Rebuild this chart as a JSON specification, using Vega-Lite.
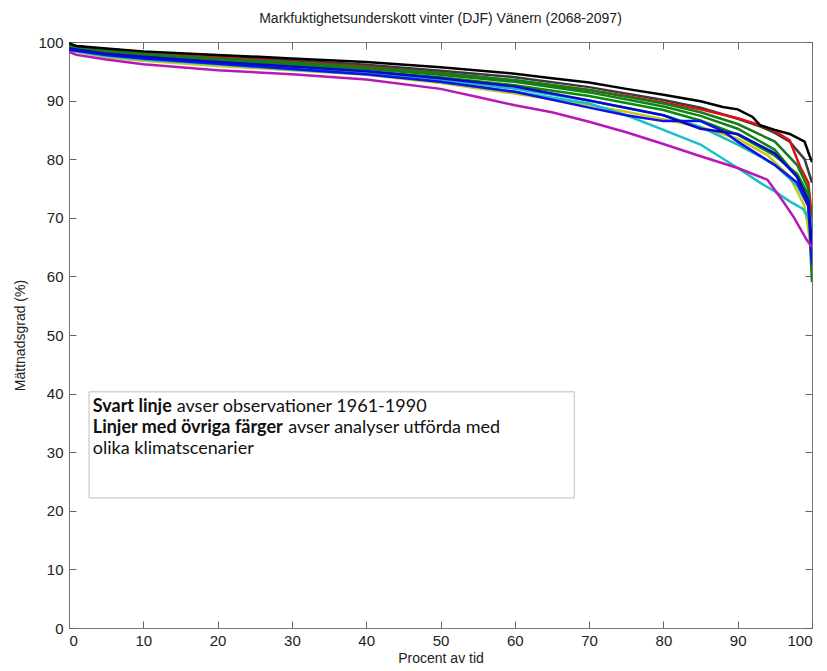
{
  "$schema": "https://vega.github.io/schema/vega-lite/v6.json",
  "width": 743,
  "height": 586,
  "autosize": {"type": "none"},
  "padding": {"left": 69, "top": 42, "right": 15, "bottom": 43},
  "background": "white",
  "title": {"text": "Markfuktighetsunderskott vinter (DJF) Vänern (2068-2097)", "font": "Liberation Sans", "fontSize": 14, "fontWeight": "normal", "color": "#222", "offset": 9, "anchor": "middle"},
  "config": {
    "view": {"stroke": "#777", "strokeWidth": 1},
    "axis": {"grid": false, "domain": false, "tickColor": "#666", "tickWidth": 1, "tickSize": 7, "offset": -7, "labelFont": "Liberation Sans", "labelFontSize": 15, "labelColor": "#222", "titleFont": "Liberation Sans", "titleFontSize": 14, "titleFontWeight": "normal", "titleColor": "#222"}
  },
  "datasets": {
    "lines": [
      {"s":"gray","x":0,"y":99.4},{"s":"gray","x":5,"y":98.8},{"s":"gray","x":10,"y":98.3},{"s":"gray","x":20,"y":97.6},{"s":"gray","x":30,"y":96.9},{"s":"gray","x":40,"y":96.1},{"s":"gray","x":50,"y":95.1},{"s":"gray","x":60,"y":94.0},{"s":"gray","x":70,"y":92.3},{"s":"gray","x":80,"y":90.1},{"s":"gray","x":85,"y":88.8},{"s":"gray","x":90,"y":86.9},{"s":"gray","x":93,"y":85.6},{"s":"gray","x":95,"y":84.5},{"s":"gray","x":97,"y":83.0},{"s":"gray","x":99,"y":80.0},{"s":"gray","x":100,"y":76.0},
      {"s":"red","x":0,"y":99.4},{"s":"red","x":5,"y":98.7},{"s":"red","x":10,"y":98.2},{"s":"red","x":20,"y":97.4},{"s":"red","x":30,"y":96.6},{"s":"red","x":40,"y":95.8},{"s":"red","x":50,"y":94.7},{"s":"red","x":60,"y":93.4},{"s":"red","x":70,"y":91.8},{"s":"red","x":75,"y":90.8},{"s":"red","x":80,"y":89.7},{"s":"red","x":85,"y":88.5},{"s":"red","x":90,"y":87.0},{"s":"red","x":93,"y":85.8},{"s":"red","x":95,"y":84.8},{"s":"red","x":97,"y":83.2},{"s":"red","x":98.4,"y":78.7},{"s":"red","x":99.5,"y":76.0},{"s":"red","x":100,"y":70.0},
      {"s":"green1","x":0,"y":99.2},{"s":"green1","x":5,"y":98.3},{"s":"green1","x":10,"y":97.8},{"s":"green1","x":20,"y":97.0},{"s":"green1","x":30,"y":96.2},{"s":"green1","x":40,"y":95.4},{"s":"green1","x":50,"y":94.4},{"s":"green1","x":60,"y":93.2},{"s":"green1","x":70,"y":91.4},{"s":"green1","x":80,"y":89.0},{"s":"green1","x":85,"y":87.4},{"s":"green1","x":90,"y":85.2},{"s":"green1","x":95,"y":81.6},{"s":"green1","x":98,"y":77.0},{"s":"green1","x":99.5,"y":72.0},{"s":"green1","x":100,"y":59.0},
      {"s":"green2","x":0,"y":99.0},{"s":"green2","x":5,"y":98.0},{"s":"green2","x":10,"y":97.5},{"s":"green2","x":20,"y":96.7},{"s":"green2","x":30,"y":95.9},{"s":"green2","x":40,"y":95.0},{"s":"green2","x":50,"y":94.0},{"s":"green2","x":60,"y":92.6},{"s":"green2","x":70,"y":90.8},{"s":"green2","x":80,"y":88.4},{"s":"green2","x":85,"y":86.6},{"s":"green2","x":90,"y":84.2},{"s":"green2","x":95,"y":80.6},{"s":"green2","x":98,"y":77.5},{"s":"green2","x":99.5,"y":74.0},{"s":"green2","x":100,"y":62.0},
      {"s":"green3","x":0,"y":99.3},{"s":"green3","x":5,"y":98.5},{"s":"green3","x":10,"y":98.0},{"s":"green3","x":20,"y":97.2},{"s":"green3","x":30,"y":96.5},{"s":"green3","x":40,"y":95.7},{"s":"green3","x":50,"y":94.7},{"s":"green3","x":60,"y":93.5},{"s":"green3","x":70,"y":91.8},{"s":"green3","x":80,"y":89.5},{"s":"green3","x":85,"y":88.0},{"s":"green3","x":90,"y":86.0},{"s":"green3","x":95,"y":83.0},{"s":"green3","x":98,"y":79.0},{"s":"green3","x":99.5,"y":75.0},{"s":"green3","x":100,"y":66.0},
      {"s":"yellow","x":0,"y":98.5},{"s":"yellow","x":5,"y":97.4},{"s":"yellow","x":10,"y":96.8},{"s":"yellow","x":20,"y":95.9},{"s":"yellow","x":30,"y":95.2},{"s":"yellow","x":40,"y":94.4},{"s":"yellow","x":50,"y":93.0},{"s":"yellow","x":60,"y":91.2},{"s":"yellow","x":70,"y":89.2},{"s":"yellow","x":75,"y":88.1},{"s":"yellow","x":80,"y":86.8},{"s":"yellow","x":85,"y":85.5},{"s":"yellow","x":90,"y":83.5},{"s":"yellow","x":94,"y":80.7},{"s":"yellow","x":97,"y":77.0},{"s":"yellow","x":99,"y":72.0},{"s":"yellow","x":100,"y":64.0},
      {"s":"cyan1","x":0,"y":98.6},{"s":"cyan1","x":5,"y":97.6},{"s":"cyan1","x":10,"y":97.0},{"s":"cyan1","x":20,"y":96.2},{"s":"cyan1","x":30,"y":95.3},{"s":"cyan1","x":40,"y":94.5},{"s":"cyan1","x":50,"y":93.2},{"s":"cyan1","x":60,"y":91.5},{"s":"cyan1","x":70,"y":89.5},{"s":"cyan1","x":75,"y":87.5},{"s":"cyan1","x":80,"y":85.0},{"s":"cyan1","x":85,"y":82.5},{"s":"cyan1","x":90,"y":78.5},{"s":"cyan1","x":93,"y":76.0},{"s":"cyan1","x":95,"y":74.5},{"s":"cyan1","x":97,"y":72.8},{"s":"cyan1","x":98.8,"y":71.5},{"s":"cyan1","x":99.5,"y":70.0},{"s":"cyan1","x":100,"y":67.0},
      {"s":"cyan2","x":0,"y":98.8},{"s":"cyan2","x":5,"y":97.8},{"s":"cyan2","x":10,"y":97.2},{"s":"cyan2","x":20,"y":96.5},{"s":"cyan2","x":30,"y":95.6},{"s":"cyan2","x":40,"y":94.8},{"s":"cyan2","x":50,"y":93.5},{"s":"cyan2","x":60,"y":92.0},{"s":"cyan2","x":70,"y":90.0},{"s":"cyan2","x":80,"y":87.5},{"s":"cyan2","x":85,"y":85.5},{"s":"cyan2","x":90,"y":82.5},{"s":"cyan2","x":93,"y":80.5},{"s":"cyan2","x":95,"y":79.0},{"s":"cyan2","x":98,"y":75.5},{"s":"cyan2","x":99.5,"y":72.0},{"s":"cyan2","x":100,"y":68.0},
      {"s":"blue1","x":0,"y":98.7},{"s":"blue1","x":5,"y":97.8},{"s":"blue1","x":10,"y":97.2},{"s":"blue1","x":20,"y":96.3},{"s":"blue1","x":30,"y":95.4},{"s":"blue1","x":40,"y":94.5},{"s":"blue1","x":50,"y":93.2},{"s":"blue1","x":60,"y":91.5},{"s":"blue1","x":70,"y":88.8},{"s":"blue1","x":75,"y":87.5},{"s":"blue1","x":80,"y":86.5},{"s":"blue1","x":85,"y":86.5},{"s":"blue1","x":88,"y":84.8},{"s":"blue1","x":90,"y":83.0},{"s":"blue1","x":95,"y":79.0},{"s":"blue1","x":98,"y":76.0},{"s":"blue1","x":99.5,"y":72.0},{"s":"blue1","x":100,"y":62.0},
      {"s":"blue2","x":0,"y":98.9},{"s":"blue2","x":5,"y":98.0},{"s":"blue2","x":10,"y":97.5},{"s":"blue2","x":20,"y":96.6},{"s":"blue2","x":30,"y":95.8},{"s":"blue2","x":40,"y":95.0},{"s":"blue2","x":50,"y":93.8},{"s":"blue2","x":60,"y":92.4},{"s":"blue2","x":70,"y":90.0},{"s":"blue2","x":80,"y":87.5},{"s":"blue2","x":85,"y":85.2},{"s":"blue2","x":90,"y":84.3},{"s":"blue2","x":95,"y":81.0},{"s":"blue2","x":98,"y":77.0},{"s":"blue2","x":99.5,"y":73.0},{"s":"blue2","x":100,"y":65.0},
      {"s":"magenta","x":0,"y":98.3},{"s":"magenta","x":1,"y":97.8},{"s":"magenta","x":5,"y":97.0},{"s":"magenta","x":10,"y":96.2},{"s":"magenta","x":20,"y":95.2},{"s":"magenta","x":30,"y":94.5},{"s":"magenta","x":40,"y":93.6},{"s":"magenta","x":50,"y":92.0},{"s":"magenta","x":55,"y":90.6},{"s":"magenta","x":60,"y":89.2},{"s":"magenta","x":65,"y":88.0},{"s":"magenta","x":70,"y":86.4},{"s":"magenta","x":75,"y":84.6},{"s":"magenta","x":80,"y":82.6},{"s":"magenta","x":85,"y":80.5},{"s":"magenta","x":90,"y":78.5},{"s":"magenta","x":94,"y":76.5},{"s":"magenta","x":96,"y":73.0},{"s":"magenta","x":97.5,"y":70.2},{"s":"magenta","x":98.5,"y":68.0},{"s":"magenta","x":99.3,"y":66.2},{"s":"magenta","x":100,"y":65.0},
      {"s":"black","x":0,"y":99.8},{"s":"black","x":1,"y":99.3},{"s":"black","x":5,"y":98.9},{"s":"black","x":10,"y":98.4},{"s":"black","x":20,"y":97.8},{"s":"black","x":30,"y":97.2},{"s":"black","x":40,"y":96.6},{"s":"black","x":50,"y":95.7},{"s":"black","x":60,"y":94.6},{"s":"black","x":65,"y":93.8},{"s":"black","x":70,"y":93.1},{"s":"black","x":75,"y":92.0},{"s":"black","x":80,"y":91.0},{"s":"black","x":85,"y":89.9},{"s":"black","x":88,"y":88.9},{"s":"black","x":90,"y":88.5},{"s":"black","x":92,"y":87.2},{"s":"black","x":93,"y":85.8},{"s":"black","x":95,"y":85.0},{"s":"black","x":97,"y":84.3},{"s":"black","x":99,"y":83.0},{"s":"black","x":99.7,"y":80.5},{"s":"black","x":100,"y":79.5}
    ],
    "box": [{"x1": 2.7, "x2": 68.0, "y1": 22.2, "y2": 40.3}],
    "bold": [
      {"tx": 3.2, "ty": 37.7, "t": "Svart linje"},
      {"tx": 3.2, "ty": 34.1, "t": "Linjer med övriga färger"}
    ],
    "normal": [
      {"tx": 14.5, "ty": 37.7, "t": "avser observationer 1961-1990"},
      {"tx": 29.5, "ty": 34.1, "t": "avser analyser utförda med"},
      {"tx": 3.2, "ty": 30.5, "t": "olika klimatscenarier"}
    ]
  },
  "resolve": {"axis": {"x": "independent", "y": "independent"}},
  "layer": [
    {
      "data": {"name": "lines"},
      "mark": {"type": "line", "strokeWidth": 2.5, "clip": true},
      "encoding": {
        "x": {"field": "x", "type": "quantitative", "scale": {"domain": [0, 100], "nice": false}, "axis": {"orient": "bottom", "values": [0,10,20,30,40,50,60,70,80,90,100], "title": "Procent av tid", "labelPadding": 5, "titlePadding": 3}},
        "y": {"field": "y", "type": "quantitative", "scale": {"domain": [0, 100], "nice": false}, "axis": {"orient": "left", "values": [0,10,20,30,40,50,60,70,80,90,100], "title": "Mättnadsgrad (%)", "labelPadding": 6, "titlePadding": 10}},
        "color": {"field": "s", "type": "nominal", "legend": null, "scale": {"domain": ["gray","red","green1","green2","green3","yellow","cyan1","cyan2","blue1","blue2","magenta","black"], "range": ["#3a3a3a","#e01010","#128012","#0a8a0a","#1a7a1a","#c8c81a","#18c0c8","#20b8c0","#1010e8","#0808c8","#b818b8","#000000"]}}
      }
    },
    {
      "data": {"name": "box"},
      "mark": {"type": "rect", "fill": "white", "stroke": "#bdbdbd", "strokeWidth": 1},
      "encoding": {
        "x": {"field": "x1", "type": "quantitative", "axis": {"orient": "top", "values": [0,10,20,30,40,50,60,70,80,90,100], "labels": false, "title": null}},
        "x2": {"field": "x2"},
        "y": {"field": "y1", "type": "quantitative", "axis": {"orient": "right", "values": [0,10,20,30,40,50,60,70,80,90,100], "labels": false, "title": null}},
        "y2": {"field": "y2"}
      }
    },
    {
      "data": {"name": "bold"},
      "mark": {"type": "text", "font": "Lato", "fontSize": 18, "fontWeight": "bold", "align": "left", "baseline": "middle", "color": "#111"},
      "encoding": {
        "x": {"field": "tx", "type": "quantitative", "axis": null},
        "y": {"field": "ty", "type": "quantitative", "axis": null},
        "text": {"field": "t"}
      }
    },
    {
      "data": {"name": "normal"},
      "mark": {"type": "text", "font": "Lato", "fontSize": 18, "fontWeight": "normal", "align": "left", "baseline": "middle", "color": "#111"},
      "encoding": {
        "x": {"field": "tx", "type": "quantitative", "axis": null},
        "y": {"field": "ty", "type": "quantitative", "axis": null},
        "text": {"field": "t"}
      }
    }
  ]
}
